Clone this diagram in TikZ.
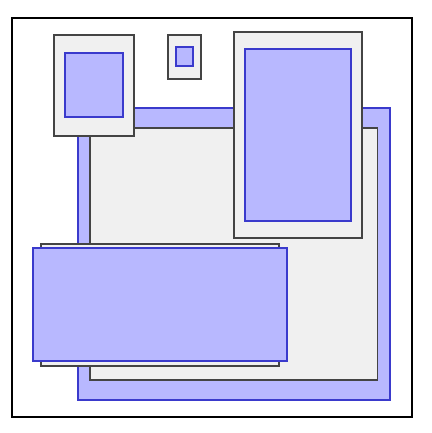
\documentclass[tikz,border=0pt]{standalone}
\definecolor{bluefill}{HTML}{B8B8FF}
\definecolor{blueline}{HTML}{3A3ACC}
\definecolor{greyfill}{HTML}{F0F0F0}
\definecolor{greyline}{HTML}{444444}
\tikzset{
  bluebox/.style={fill=bluefill, draw=blueline, line width=1.1pt},
  greybox/.style={fill=greyfill, draw=greyline, line width=1.2pt},
  frame/.style={draw=black, line width=2pt}
}
\begin{document}
\begin{tikzpicture}[x=1pt,y=-1pt]
\useasboundingbox (0,0) rectangle (431,433);
\fill[white] (0,0) rectangle (431,433);
% outer frame
\draw[frame] (12,18) rectangle (411.5,417);
% big blue and grey inner
\draw[bluebox] (78,108) rectangle (390,400);
\draw[greybox] (90,128) rectangle (377.5,380);
% top-left box
\draw[greybox] (54,35) rectangle (134,136);
\draw[bluebox] (65,53) rectangle (123,117);
% small box
\draw[greybox] (168,35) rectangle (201,79);
\draw[bluebox] (176,47) rectangle (193,66);
% top-right box
\draw[greybox] (234,32) rectangle (362,238);
\draw[bluebox] (245,49) rectangle (351,221);
% bottom boxes
\draw[greybox] (41,244) rectangle (279,366);
\draw[bluebox] (33,248) rectangle (287,361);
\end{tikzpicture}
\end{document}
